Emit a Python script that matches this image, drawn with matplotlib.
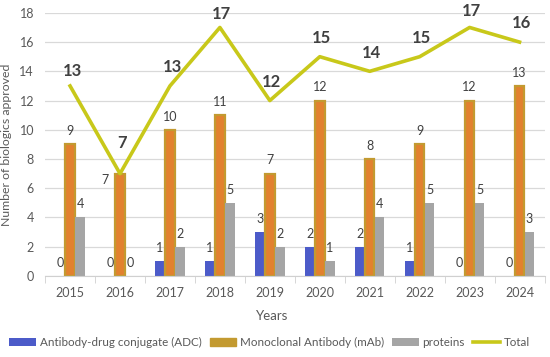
import matplotlib.pyplot as plt
import matplotlib.patches as patches
import numpy as np

years = ['2015', '2016', '2017', '2018', '2019', '2020', '2021', '2022', '2023', '2024']
adc = [0, 0, 1, 1, 3, 2, 2, 1, 0, 0]
mab = [9, 7, 10, 11, 7, 12, 8, 9, 12, 13]
proteins = [4, 0, 2, 5, 2, 1, 4, 5, 5, 3]
total = [13, 7, 13, 17, 12, 15, 14, 15, 17, 16]

plt.rcParams['font.family'] = ['Lato', 'DejaVu Sans']

fig = plt.figure(figsize=(5.5, 3.57), dpi=100)
ax = fig.add_axes([0.082, 0.227, 0.908, 0.737])

x = np.arange(len(years))
w = 0.19
txt = '#404040'

b1 = ax.bar(x - 0.2, adc, w, color='#4C5BC9', label='Antibody-drug conjugate (ADC)', zorder=2)
b2 = ax.bar(x, mab, w, color='#E2812F', edgecolor='#C39A30', linewidth=1.6, zorder=2)
b3 = ax.bar(x + 0.2, proteins, w, color='#A5A5A5', label='proteins', zorder=2)
ln, = ax.plot(x, total, color='#C8C81A', lw=2.6, label='Total', zorder=3)

# value labels above bars
for bars, vals in [(b1, adc), (b2, mab), (b3, proteins)]:
    for i, (rect, v) in enumerate(zip(bars, vals)):
        cx = rect.get_x() + rect.get_width() / 2
        dx, dy = 0, 9.5
        if bars is b2 and i == 1:
            # 2016 mAb label sits to the left of the bar
            dx, dy = -11, -4.5
        ax.annotate(str(v), (cx, v), xytext=(dx, dy), textcoords='offset points',
                    ha='center', va='center', fontsize=9, color=txt)

# total labels
offs = [11, 22, 13.5, 9.5, 13.5, 13.5, 13.5, 13.5, 12, 13.5]
for i, v in enumerate(total):
    ax.annotate(str(v), (x[i], v), xytext=(1.5, offs[i]), textcoords='offset points',
                ha='center', va='center', fontsize=12, fontweight='bold', color=txt)

ax.set_xlim(-0.5, len(years) - 0.5)
ax.set_ylim(0, 18)
ax.set_yticks(range(0, 19, 2))
ax.set_xticks(x)
ax.set_xticklabels(years)
ax.set_xticks(np.arange(-0.5, len(years), 1), minor=True)
ax.tick_params(axis='x', which='major', length=0, labelsize=9, colors='#595959', pad=8)
ax.tick_params(axis='x', which='minor', length=5, color='#D0D0D0', direction='out')
ax.tick_params(axis='y', length=0, labelsize=9, colors='#595959', pad=8)
ax.grid(axis='y', color='#D9D9D9', lw=0.9, zorder=0)
for s in ['top', 'right', 'left']:
    ax.spines[s].set_visible(False)
ax.spines['bottom'].set_color('#D0D0D0')

ax.set_ylabel('Number of biologics approved', fontsize=8.8, color='#595959', labelpad=5)
ax.set_xlabel('Years', fontsize=9.5, color='#595959')
ax.xaxis.set_label_coords(0.455, -0.13)

mab_handle = patches.Patch(color='#C39A30', label='Monoclonal Antibody (mAb)')
fig.legend(handles=[b1, mab_handle, b3, ln], loc='lower center', bbox_to_anchor=(0.49, -0.005),
           ncol=4, frameon=False, fontsize=8.4, handlelength=2.3, handleheight=0.6,
           columnspacing=0.7, handletextpad=0.3, labelcolor='#595959')

fig.savefig('out.png', dpi=100)
